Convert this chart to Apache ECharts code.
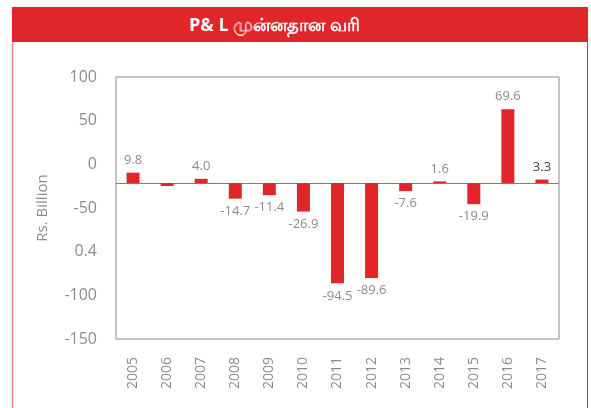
<!DOCTYPE html>
<html>
<head>
<meta charset="utf-8">
<script src="https://cdn.jsdelivr.net/npm/echarts@6/dist/echarts.min.js"></script>
<style>
  html, body { margin: 0; padding: 0; background: #fff; }
  #chart { width: 591px; height: 408px; }
</style>
</head>
<body>
<div id="chart"></div>
<script>
// data
var years = ['2005', '2006', '2007', '2008', '2009', '2010', '2011', '2012', '2013', '2014', '2015', '2016', '2017']
var values = [9.8, -2.8, 4.0, -14.7, -11.4, -26.9, -94.5, -89.6, -7.6, 1.6, -19.9, 69.6, 3.3]
var noLabelYears = ['2006']
// tick labels as printed (bottom to top)
var yTickLabels = ['-150', '-100', '0.4', '-50', '0', '50', '100']
var valueMin = -147
var valueMax = 100

var red = '#e0262a'
var grey = '#8c8c8c'
var font = "'Liberation Sans Narrow', 'Open Sans', sans-serif"

var chart = echarts.init(document.getElementById('chart'))

var barData = values.map(function (v, i) {
    var hide = noLabelYears.indexOf(years[i]) >= 0
    return {
        value: v,
        label: {
            show: !hide,
            position: v >= 0 ? 'top' : 'bottom',
            color: years[i] === '2017' ? '#444' : grey,
        },
    }
})

var option = {
    animation: false,
    title: {
        text: 'P& L முன்னதான வரி',
        left: 184,
        top: 12,
        textStyle: { color: '#fff', fontSize: 18, fontWeight: 'bold', fontFamily: "'Open Sans', 'Noto Sans', sans-serif" },
    },
    graphic: [
        { type: 'rect', z: -1, shape: { x: 12, y: 7, width: 576, height: 35 }, style: { fill: red } },
        { type: 'line', shape: { x1: 12.5, y1: 42, x2: 12.5, y2: 408 }, style: { stroke: '#ee8a8a', lineWidth: 1.5 } },
        { type: 'line', shape: { x1: 587.5, y1: 42, x2: 587.5, y2: 408 }, style: { stroke: red, lineWidth: 1 } },
    ],
    grid: {
        left: 116,
        right: 32,
        top: 77,
        bottom: 69,
        show: true,
        borderColor: '#8a8a8a',
        borderWidth: 1,
    },
    xAxis: {
        type: 'category',
        data: years,
        axisLine: { show: false },
        axisTick: { show: false },
        axisLabel: { rotate: 90, margin: 18, color: grey, fontSize: 14, fontFamily: font },
    },
    yAxis: [
        {
            type: 'category',
            data: yTickLabels,
            boundaryGap: false,
            name: 'Rs. Billion',
            nameLocation: 'middle',
            nameRotate: 90,
            nameGap: 66,
            nameTextStyle: { color: grey, fontSize: 15, fontFamily: font },
            axisLine: { show: false },
            axisTick: { show: false },
            splitLine: { show: false },
            axisLabel: { margin: 19, color: grey, fontSize: 16, fontFamily: font },
        },
        {
            type: 'value',
            min: valueMin,
            max: valueMax,
            show: false,
            splitLine: { show: false },
        },
    ],
    series: [
        {
            type: 'bar',
            yAxisIndex: 1,
            barWidth: 13,
            itemStyle: { color: red },
            label: { fontSize: 13, fontFamily: font, distance: 6, formatter: function (p) { return p.value.toFixed(1) } },
            markLine: {
                silent: true,
                symbol: 'none',
                label: { show: false },
                lineStyle: { color: red, width: 1, type: 'solid', opacity: 0.8 },
                data: [{ yAxis: 0 }],
            },
            data: barData,
        },
    ],
}
option && chart.setOption(option)
</script>
</body>
</html>
